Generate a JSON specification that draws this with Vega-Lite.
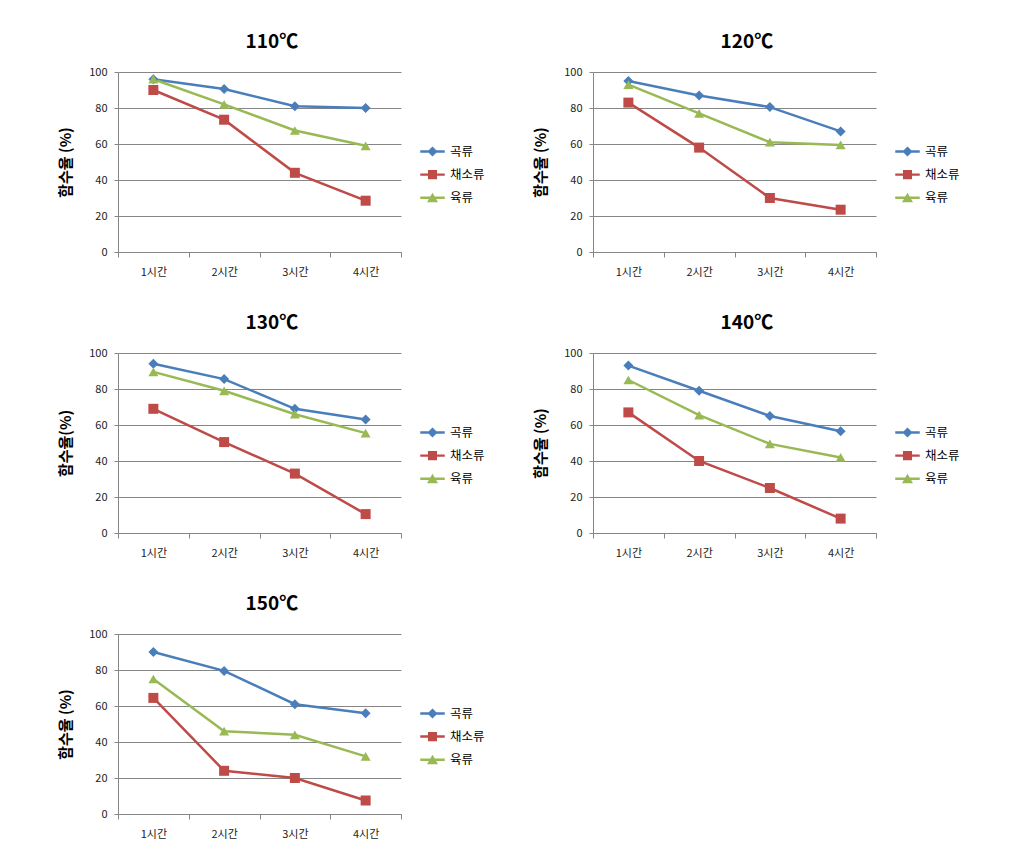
{
  "$schema": "https://vega.github.io/schema/vega-lite/v6.json",
  "background": "white",
  "padding": {"left": 58, "top": 33, "right": 5, "bottom": 5},
  "config": {
    "font": "Noto Sans CJK KR",
    "view": {"stroke": null},
    "axis": {"labelFont": "Noto Sans CJK KR", "labelFontSize": 11, "labelColor": "#222", "domainColor": "#868686", "tickColor": "#868686", "gridColor": "#868686", "gridWidth": 1, "domainWidth": 1},
    "title": {"font": "Noto Sans CJK KR", "fontSize": 19, "fontWeight": "bold", "color": "#000", "anchor": "middle", "offset": 14, "frame": "bounds"},
    "legend": {"labelFont": "Noto Sans CJK KR", "labelFontSize": 12.5, "labelColor": "#000"}
  },
  "datasets": {
    "d": [
      {"temp": "110", "time": "1시간", "series": "곡류", "value": 96},
      {"temp": "110", "time": "2시간", "series": "곡류", "value": 90.5},
      {"temp": "110", "time": "3시간", "series": "곡류", "value": 81},
      {"temp": "110", "time": "4시간", "series": "곡류", "value": 80},
      {"temp": "110", "time": "1시간", "series": "채소류", "value": 90},
      {"temp": "110", "time": "2시간", "series": "채소류", "value": 73.5},
      {"temp": "110", "time": "3시간", "series": "채소류", "value": 44},
      {"temp": "110", "time": "4시간", "series": "채소류", "value": 28.5},
      {"temp": "110", "time": "1시간", "series": "육류", "value": 96},
      {"temp": "110", "time": "2시간", "series": "육류", "value": 82},
      {"temp": "110", "time": "3시간", "series": "육류", "value": 67.5},
      {"temp": "110", "time": "4시간", "series": "육류", "value": 59},
      {"temp": "120", "time": "1시간", "series": "곡류", "value": 95},
      {"temp": "120", "time": "2시간", "series": "곡류", "value": 87},
      {"temp": "120", "time": "3시간", "series": "곡류", "value": 80.5},
      {"temp": "120", "time": "4시간", "series": "곡류", "value": 67},
      {"temp": "120", "time": "1시간", "series": "채소류", "value": 83},
      {"temp": "120", "time": "2시간", "series": "채소류", "value": 58},
      {"temp": "120", "time": "3시간", "series": "채소류", "value": 30},
      {"temp": "120", "time": "4시간", "series": "채소류", "value": 23.5},
      {"temp": "120", "time": "1시간", "series": "육류", "value": 93},
      {"temp": "120", "time": "2시간", "series": "육류", "value": 77},
      {"temp": "120", "time": "3시간", "series": "육류", "value": 61},
      {"temp": "120", "time": "4시간", "series": "육류", "value": 59.5},
      {"temp": "130", "time": "1시간", "series": "곡류", "value": 94},
      {"temp": "130", "time": "2시간", "series": "곡류", "value": 85.5},
      {"temp": "130", "time": "3시간", "series": "곡류", "value": 69},
      {"temp": "130", "time": "4시간", "series": "곡류", "value": 63},
      {"temp": "130", "time": "1시간", "series": "채소류", "value": 69},
      {"temp": "130", "time": "2시간", "series": "채소류", "value": 50.5},
      {"temp": "130", "time": "3시간", "series": "채소류", "value": 33},
      {"temp": "130", "time": "4시간", "series": "채소류", "value": 10.5},
      {"temp": "130", "time": "1시간", "series": "육류", "value": 89.5},
      {"temp": "130", "time": "2시간", "series": "육류", "value": 79},
      {"temp": "130", "time": "3시간", "series": "육류", "value": 66},
      {"temp": "130", "time": "4시간", "series": "육류", "value": 55.5},
      {"temp": "140", "time": "1시간", "series": "곡류", "value": 93},
      {"temp": "140", "time": "2시간", "series": "곡류", "value": 79},
      {"temp": "140", "time": "3시간", "series": "곡류", "value": 65},
      {"temp": "140", "time": "4시간", "series": "곡류", "value": 56.5},
      {"temp": "140", "time": "1시간", "series": "채소류", "value": 67},
      {"temp": "140", "time": "2시간", "series": "채소류", "value": 40},
      {"temp": "140", "time": "3시간", "series": "채소류", "value": 25},
      {"temp": "140", "time": "4시간", "series": "채소류", "value": 8},
      {"temp": "140", "time": "1시간", "series": "육류", "value": 85},
      {"temp": "140", "time": "2시간", "series": "육류", "value": 65.5},
      {"temp": "140", "time": "3시간", "series": "육류", "value": 49.5},
      {"temp": "140", "time": "4시간", "series": "육류", "value": 42},
      {"temp": "150", "time": "1시간", "series": "곡류", "value": 90},
      {"temp": "150", "time": "2시간", "series": "곡류", "value": 79.5},
      {"temp": "150", "time": "3시간", "series": "곡류", "value": 61},
      {"temp": "150", "time": "4시간", "series": "곡류", "value": 56},
      {"temp": "150", "time": "1시간", "series": "채소류", "value": 64.5},
      {"temp": "150", "time": "2시간", "series": "채소류", "value": 24},
      {"temp": "150", "time": "3시간", "series": "채소류", "value": 20},
      {"temp": "150", "time": "4시간", "series": "채소류", "value": 7.5},
      {"temp": "150", "time": "1시간", "series": "육류", "value": 75},
      {"temp": "150", "time": "2시간", "series": "육류", "value": 46},
      {"temp": "150", "time": "3시간", "series": "육류", "value": 44},
      {"temp": "150", "time": "4시간", "series": "육류", "value": 32}
    ]
  },
  "columns": 2,
  "spacing": {"column": 48, "row": 37},
  "resolve": {"scale": {"color": "independent"}, "legend": {"color": "independent"}},
  "concat": [
    {
      "data": {"name": "d"},
      "transform": [{"filter": "datum.temp === '110'"}],
      "title": "110℃",
      "width": 283, "height": 180,
      "encoding": {
        "x": {"field": "time", "type": "ordinal", "sort": ["1시간", "2시간", "3시간", "4시간"], "scale": {"type": "band", "paddingInner": 0, "paddingOuter": 0}, "axis": {"title": null, "labelAngle": 0, "tickBand": "extent", "tickSize": 5, "labelPadding": 9, "grid": false}},
        "y": {"field": "value", "type": "quantitative", "scale": {"domain": [0, 100]}, "axis": {"title": "함수율 (%)", "titleFontSize": 15, "titleFontWeight": "bold", "titleColor": "#000", "titlePadding": 15, "values": [0, 20, 40, 60, 80, 100], "tickSize": 4, "labelPadding": 7, "grid": true}},
        "color": {"field": "series", "type": "nominal", "title": null, "scale": {"domain": ["곡류", "채소류", "육류"], "range": ["#4A7EBB", "#BE4B48", "#98B954"]}, "legend": {"orient": "none", "legendX": 302, "legendY": 67, "title": null, "symbolSize": 600, "rowPadding": 4.1, "labelOffset": 5, "symbolStrokeWidth": 0, "encode": {"symbols": {"update": {"shape": {"signal": "datum.value === '곡류' ? 'M-1,-0.1H1V0.1H-1Z M0,-0.41L0.41,0L0,0.41L-0.41,0Z' : datum.value === '채소류' ? 'M-1,-0.1H1V0.1H-1Z M-0.37,-0.37H0.37V0.37H-0.37Z' : 'M-1,-0.1H1V0.1H-1Z M0,-0.41L0.45,0.37H-0.45Z'"}}}}}}
      },
      "layer": [
        {"mark": {"type": "line", "strokeWidth": 2.5}},
        {"mark": {"type": "point", "filled": true, "opacity": 1, "size": 100}, "encoding": {"shape": {"condition": [{"test": "datum.series === '곡류'", "value": "diamond"}, {"test": "datum.series === '채소류'", "value": "square"}], "value": "triangle-up"}}}
      ]
    },
    {
      "data": {"name": "d"},
      "transform": [{"filter": "datum.temp === '120'"}],
      "title": "120℃",
      "width": 283, "height": 180,
      "encoding": {
        "x": {"field": "time", "type": "ordinal", "sort": ["1시간", "2시간", "3시간", "4시간"], "scale": {"type": "band", "paddingInner": 0, "paddingOuter": 0}, "axis": {"title": null, "labelAngle": 0, "tickBand": "extent", "tickSize": 5, "labelPadding": 9, "grid": false}},
        "y": {"field": "value", "type": "quantitative", "scale": {"domain": [0, 100]}, "axis": {"title": "함수율 (%)", "titleFontSize": 15, "titleFontWeight": "bold", "titleColor": "#000", "titlePadding": 15, "values": [0, 20, 40, 60, 80, 100], "tickSize": 4, "labelPadding": 7, "grid": true}},
        "color": {"field": "series", "type": "nominal", "title": null, "scale": {"domain": ["곡류", "채소류", "육류"], "range": ["#4A7EBB", "#BE4B48", "#98B954"]}, "legend": {"orient": "none", "legendX": 302, "legendY": 67, "title": null, "symbolSize": 600, "rowPadding": 4.1, "labelOffset": 5, "symbolStrokeWidth": 0, "encode": {"symbols": {"update": {"shape": {"signal": "datum.value === '곡류' ? 'M-1,-0.1H1V0.1H-1Z M0,-0.41L0.41,0L0,0.41L-0.41,0Z' : datum.value === '채소류' ? 'M-1,-0.1H1V0.1H-1Z M-0.37,-0.37H0.37V0.37H-0.37Z' : 'M-1,-0.1H1V0.1H-1Z M0,-0.41L0.45,0.37H-0.45Z'"}}}}}}
      },
      "layer": [
        {"mark": {"type": "line", "strokeWidth": 2.5}},
        {"mark": {"type": "point", "filled": true, "opacity": 1, "size": 100}, "encoding": {"shape": {"condition": [{"test": "datum.series === '곡류'", "value": "diamond"}, {"test": "datum.series === '채소류'", "value": "square"}], "value": "triangle-up"}}}
      ]
    },
    {
      "data": {"name": "d"},
      "transform": [{"filter": "datum.temp === '130'"}],
      "title": "130℃",
      "width": 283, "height": 180,
      "encoding": {
        "x": {"field": "time", "type": "ordinal", "sort": ["1시간", "2시간", "3시간", "4시간"], "scale": {"type": "band", "paddingInner": 0, "paddingOuter": 0}, "axis": {"title": null, "labelAngle": 0, "tickBand": "extent", "tickSize": 5, "labelPadding": 9, "grid": false}},
        "y": {"field": "value", "type": "quantitative", "scale": {"domain": [0, 100]}, "axis": {"title": "함수율(%)", "titleFontSize": 15, "titleFontWeight": "bold", "titleColor": "#000", "titlePadding": 15, "values": [0, 20, 40, 60, 80, 100], "tickSize": 4, "labelPadding": 7, "grid": true}},
        "color": {"field": "series", "type": "nominal", "title": null, "scale": {"domain": ["곡류", "채소류", "육류"], "range": ["#4A7EBB", "#BE4B48", "#98B954"]}, "legend": {"orient": "none", "legendX": 302, "legendY": 67, "title": null, "symbolSize": 600, "rowPadding": 4.1, "labelOffset": 5, "symbolStrokeWidth": 0, "encode": {"symbols": {"update": {"shape": {"signal": "datum.value === '곡류' ? 'M-1,-0.1H1V0.1H-1Z M0,-0.41L0.41,0L0,0.41L-0.41,0Z' : datum.value === '채소류' ? 'M-1,-0.1H1V0.1H-1Z M-0.37,-0.37H0.37V0.37H-0.37Z' : 'M-1,-0.1H1V0.1H-1Z M0,-0.41L0.45,0.37H-0.45Z'"}}}}}}
      },
      "layer": [
        {"mark": {"type": "line", "strokeWidth": 2.5}},
        {"mark": {"type": "point", "filled": true, "opacity": 1, "size": 100}, "encoding": {"shape": {"condition": [{"test": "datum.series === '곡류'", "value": "diamond"}, {"test": "datum.series === '채소류'", "value": "square"}], "value": "triangle-up"}}}
      ]
    },
    {
      "data": {"name": "d"},
      "transform": [{"filter": "datum.temp === '140'"}],
      "title": "140℃",
      "width": 283, "height": 180,
      "encoding": {
        "x": {"field": "time", "type": "ordinal", "sort": ["1시간", "2시간", "3시간", "4시간"], "scale": {"type": "band", "paddingInner": 0, "paddingOuter": 0}, "axis": {"title": null, "labelAngle": 0, "tickBand": "extent", "tickSize": 5, "labelPadding": 9, "grid": false}},
        "y": {"field": "value", "type": "quantitative", "scale": {"domain": [0, 100]}, "axis": {"title": "함수율 (%)", "titleFontSize": 15, "titleFontWeight": "bold", "titleColor": "#000", "titlePadding": 15, "values": [0, 20, 40, 60, 80, 100], "tickSize": 4, "labelPadding": 7, "grid": true}},
        "color": {"field": "series", "type": "nominal", "title": null, "scale": {"domain": ["곡류", "채소류", "육류"], "range": ["#4A7EBB", "#BE4B48", "#98B954"]}, "legend": {"orient": "none", "legendX": 302, "legendY": 67, "title": null, "symbolSize": 600, "rowPadding": 4.1, "labelOffset": 5, "symbolStrokeWidth": 0, "encode": {"symbols": {"update": {"shape": {"signal": "datum.value === '곡류' ? 'M-1,-0.1H1V0.1H-1Z M0,-0.41L0.41,0L0,0.41L-0.41,0Z' : datum.value === '채소류' ? 'M-1,-0.1H1V0.1H-1Z M-0.37,-0.37H0.37V0.37H-0.37Z' : 'M-1,-0.1H1V0.1H-1Z M0,-0.41L0.45,0.37H-0.45Z'"}}}}}}
      },
      "layer": [
        {"mark": {"type": "line", "strokeWidth": 2.5}},
        {"mark": {"type": "point", "filled": true, "opacity": 1, "size": 100}, "encoding": {"shape": {"condition": [{"test": "datum.series === '곡류'", "value": "diamond"}, {"test": "datum.series === '채소류'", "value": "square"}], "value": "triangle-up"}}}
      ]
    },
    {
      "data": {"name": "d"},
      "transform": [{"filter": "datum.temp === '150'"}],
      "title": "150℃",
      "width": 283, "height": 180,
      "encoding": {
        "x": {"field": "time", "type": "ordinal", "sort": ["1시간", "2시간", "3시간", "4시간"], "scale": {"type": "band", "paddingInner": 0, "paddingOuter": 0}, "axis": {"title": null, "labelAngle": 0, "tickBand": "extent", "tickSize": 5, "labelPadding": 9, "grid": false}},
        "y": {"field": "value", "type": "quantitative", "scale": {"domain": [0, 100]}, "axis": {"title": "함수율 (%)", "titleFontSize": 15, "titleFontWeight": "bold", "titleColor": "#000", "titlePadding": 15, "values": [0, 20, 40, 60, 80, 100], "tickSize": 4, "labelPadding": 7, "grid": true}},
        "color": {"field": "series", "type": "nominal", "title": null, "scale": {"domain": ["곡류", "채소류", "육류"], "range": ["#4A7EBB", "#BE4B48", "#98B954"]}, "legend": {"orient": "none", "legendX": 302, "legendY": 67, "title": null, "symbolSize": 600, "rowPadding": 4.1, "labelOffset": 5, "symbolStrokeWidth": 0, "encode": {"symbols": {"update": {"shape": {"signal": "datum.value === '곡류' ? 'M-1,-0.1H1V0.1H-1Z M0,-0.41L0.41,0L0,0.41L-0.41,0Z' : datum.value === '채소류' ? 'M-1,-0.1H1V0.1H-1Z M-0.37,-0.37H0.37V0.37H-0.37Z' : 'M-1,-0.1H1V0.1H-1Z M0,-0.41L0.45,0.37H-0.45Z'"}}}}}}
      },
      "layer": [
        {"mark": {"type": "line", "strokeWidth": 2.5}},
        {"mark": {"type": "point", "filled": true, "opacity": 1, "size": 100}, "encoding": {"shape": {"condition": [{"test": "datum.series === '곡류'", "value": "diamond"}, {"test": "datum.series === '채소류'", "value": "square"}], "value": "triangle-up"}}}
      ]
    }
  ]
}
